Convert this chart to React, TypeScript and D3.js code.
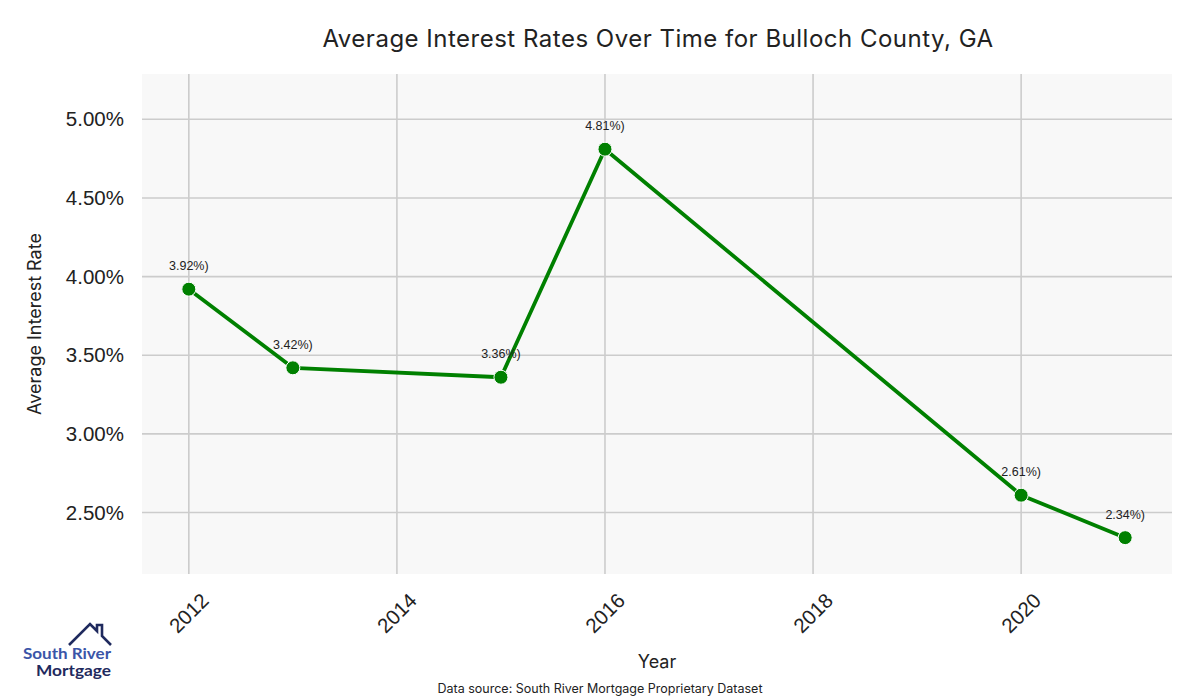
import React from "react";
import * as d3 from "d3";

const years = [2012, 2013, 2015, 2016, 2020, 2021];
const rates = [3.92, 3.42, 3.36, 4.81, 2.61, 2.34];
const xTicks = [2012, 2014, 2016, 2018, 2020];
const yTicks = [2.5, 3.0, 3.5, 4.0, 4.5, 5.0];

const W = 1200, H = 700;
const L = 142, R = 1172, T = 74, B = 574;

export default function App() {
  const x = d3.scaleLinear().domain([2011.55, 2021.45]).range([L, R]);
  const y = d3.scaleLinear().domain([2.109, 5.288]).range([B, T]);
  const pts = years.map((yr, i) => ({ yr, v: rates[i] }));
  const line = d3.line<{ yr: number; v: number }>().x(d => x(d.yr)).y(d => y(d.v))(pts) || "";
  const sans = "Liberation Sans, Arial, sans-serif";
  const title = "Inter, Lato, sans-serif";
  return (
    <svg width={W} height={H} style={{ display: "block", position: "absolute", left: 0, top: 0 }}>
      <rect x={0} y={0} width={W} height={H} fill="#fff" />
      <rect x={L} y={T} width={R - L} height={B - T} fill="#f8f8f8" />
      {xTicks.map(t => (
        <line key={"gx" + t} x1={x(t)} x2={x(t)} y1={T} y2={B} stroke="#cccccc" strokeWidth={1.6} />
      ))}
      {yTicks.map(t => (
        <line key={"gy" + t} x1={L} x2={R} y1={y(t)} y2={y(t)} stroke="#cccccc" strokeWidth={1.6} />
      ))}
      <path d={line} fill="none" stroke="#008000" strokeWidth={3.8} strokeLinejoin="round" />
      {pts.map(p => (
        <circle key={"c" + p.yr} cx={x(p.yr)} cy={y(p.v)} r={7} fill="#008000" stroke="#fff" strokeWidth={1} />
      ))}
      {pts.map(p => (
        <text key={"l" + p.yr} x={x(p.yr)} y={y(p.v) - 19} textAnchor="middle" fontFamily={sans} fontSize={12.5} fill="#222">
          {p.v.toFixed(2) + "%)"}
        </text>
      ))}
      {yTicks.map(t => (
        <text key={"ty" + t} x={124} y={y(t)} dy="0.35em" textAnchor="end" fontFamily={sans} fontSize={20.5} fill="#222">
          {t.toFixed(2) + "%"}
        </text>
      ))}
      {xTicks.map(t => (
        <text key={"tx" + t} transform={`translate(${x(t)},${613}) rotate(-45)`} textAnchor="middle" dy="0.35em" fontFamily={sans} fontSize={20.5} fill="#222">
          {t}
        </text>
      ))}
      <text x={658} y={47} textAnchor="middle" fontFamily={title} fontSize={24} letterSpacing={0.5} fill="#222">
        Average Interest Rates Over Time for Bulloch County, GA
      </text>
      <text transform={`translate(41,${(T + B) / 2}) rotate(-90)`} textAnchor="middle" fontFamily={title} fontSize={18} fill="#222">
        Average Interest Rate
      </text>
      <text x={657} y={668} textAnchor="middle" fontFamily={title} fontSize={18} fill="#222">Year</text>
      <text x={600} y={693} textAnchor="middle" fontFamily={title} fontSize={12.5} fill="#222">
        Data source: South River Mortgage Proprietary Dataset
      </text>
      <g>
        <path d="M69,645 L90,624 L97,631 L97,625 L102,625 L102,636 L111,645" fill="none" stroke="#1f2a5e" strokeWidth={2.6} strokeLinejoin="miter" />
        <text x={23} y={659} textLength={88} lengthAdjust="spacingAndGlyphs" fontFamily="Lato, Inter, sans-serif" fontWeight={700} fontSize={15.5} fill="#3a55a8">South River</text>
        <text x={36} y={676} textLength={75} lengthAdjust="spacingAndGlyphs" fontFamily="Lato, Inter, sans-serif" fontWeight={700} fontSize={15.5} fill="#1f2a5e">Mortgage</text>
      </g>
    </svg>
  );
}
